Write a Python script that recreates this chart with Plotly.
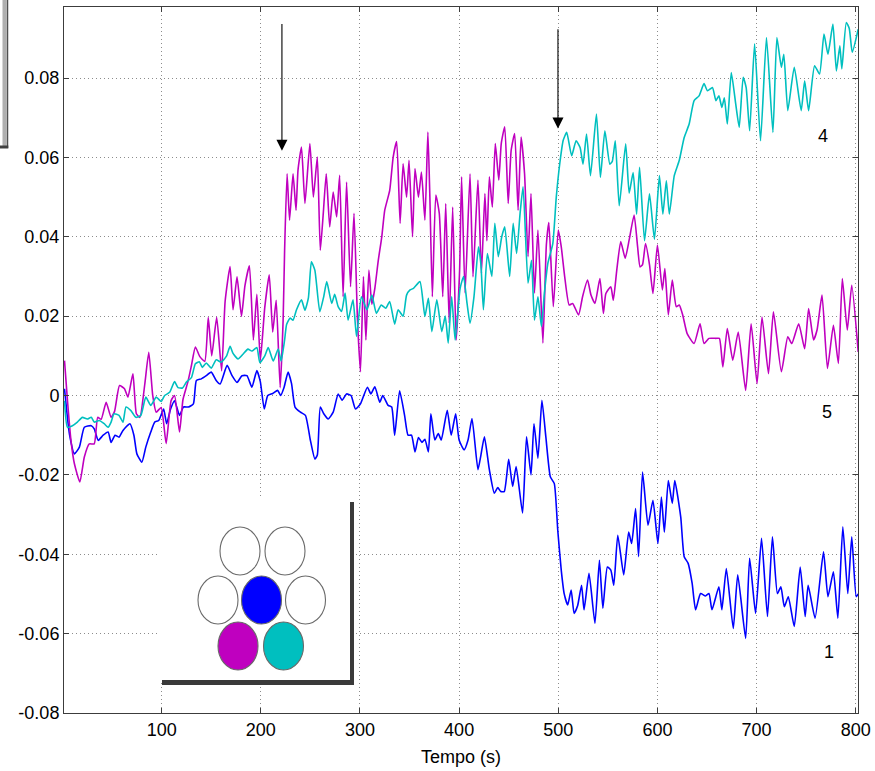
import plotly.graph_objects as go

# ---------------- data ----------------
blue_t = [2, 7, 12, 17, 22, 29, 32, 36, 41, 46, 49, 53, 57, 61, 68, 72, 75, 80, 84, 89,
          93, 97, 102, 105, 109, 113, 118, 122, 127, 132, 135, 140, 145, 150, 155, 159, 166, 171, 176, 181,
          186, 191, 196, 199.5, 203.5, 207, 212, 217, 220, 223.5, 227.5, 231, 234.5, 240, 245, 250, 254.5, 257, 260, 263.5,
          268, 273, 278, 282, 286.5, 291, 295.5, 300.5, 307.5, 311, 315, 320, 323, 328.5, 332, 335, 340, 345, 348.5, 352,
          355.5, 359, 362.5, 365.5, 369, 371.5, 375.5, 379, 382, 388, 392, 396.5, 400, 405, 409, 413, 419, 422, 425.5, 430.5,
          435.5, 439, 442, 445.5, 450, 454, 457.5, 464, 468, 472.5, 475.5, 479.5, 483.5, 487.5, 492, 496, 499.5, 503, 506, 509.5,
          513, 516, 519.5, 523.5, 526, 531, 537, 541.5, 545, 549.5, 553, 556, 560, 566, 571, 574, 578, 581, 585, 590.5,
          595.5, 600.5, 604, 607, 611, 615, 617.5, 623.5, 627, 631, 635, 638.5, 643.5, 648.5, 652, 655, 662, 665, 669.5, 676.5,
          681, 689, 693, 699, 705, 711, 716, 721, 724.5, 728, 732, 738, 744, 749, 752, 759, 767.5, 772, 777.5, 782,
          787, 792, 796, 800.5, 802.5]
blue_v = [0.0017, -0.0097, -0.0147, -0.0130, -0.0080, -0.0076, -0.0084, -0.0113, -0.0100, -0.0092, -0.0118, -0.0100, -0.0105, -0.0088, -0.0071, -0.0100, -0.0147, -0.0168, -0.0130, -0.0092,
          -0.0067, -0.0063, -0.0034, -0.0071, -0.0034, -0.0013, -0.0050, -0.0029, -0.0029, -0.0021, 0.0038, 0.0042, 0.0050, 0.0059, 0.0038, 0.0029, 0.0076, 0.0050, 0.0033, 0.0050,
          0.0050, 0.0021, 0.0063, 0.0035, -0.0034, 0.0000, 0.0005, 0.0013, 0.0000, 0.0021, 0.0059, 0.0030, -0.0029, -0.0042, -0.0050, -0.0113, -0.0160, -0.0150, -0.0029, -0.0046,
          -0.0059, -0.0042, 0.0004, -0.0012, 0.0004, 0.0000, -0.0034, -0.0021, 0.0021, 0.0004, 0.0022, -0.0017, 0.0000, -0.0025, -0.0029, -0.0100, 0.0012, -0.0050, -0.0100, -0.0100,
          -0.0142, -0.0106, -0.0118, -0.0110, -0.0142, -0.0046, -0.0112, -0.0096, -0.0112, -0.0037, -0.0100, -0.0046, -0.0112, -0.0137, -0.0112, -0.0058, -0.0187, -0.0150, -0.0104, -0.0187,
          -0.0246, -0.0232, -0.0242, -0.0242, -0.0161, -0.0229, -0.0179, -0.0296, -0.0104, -0.0200, -0.0071, -0.0158, -0.0012, -0.0105, -0.0205, -0.0222, -0.0340, -0.0440, -0.0500, -0.0528,
          -0.0490, -0.0549, -0.0530, -0.0478, -0.0540, -0.0448, -0.0574, -0.0415, -0.0536, -0.0432, -0.0440, -0.0478, -0.0352, -0.0452, -0.0344, -0.0373, -0.0285, -0.0406, -0.0193, -0.0327,
          -0.0264, -0.0373, -0.0256, -0.0344, -0.0214, -0.0272, -0.0214, -0.0306, -0.0406, -0.0423, -0.0473, -0.0540, -0.0499, -0.0505, -0.0499, -0.0540, -0.0482, -0.0540, -0.0436, -0.0587,
          -0.0452, -0.0612, -0.0410, -0.0549, -0.0360, -0.0557, -0.0356, -0.0499, -0.0482, -0.0532, -0.0507, -0.0582, -0.0432, -0.0557, -0.0478, -0.0561, -0.0394, -0.0507, -0.0444, -0.0561,
          -0.0331, -0.0499, -0.0356, -0.0507, -0.0500]

cyan_t = [2, 5, 10, 15, 20, 25, 29, 32, 37, 42, 46, 49, 52, 57, 61, 64, 69, 74, 79, 84,
          89, 94.5, 99.5, 103, 108, 113, 116.5, 121, 125, 130, 134, 138, 141, 145, 150, 155, 160, 165.5, 169, 172,
          177, 182, 187, 191, 196, 199, 204, 207.5, 212.5, 217.5, 220.5, 224, 226, 229.5, 232.5, 236, 241, 244.5, 248, 251,
          254.5, 259.5, 263.5, 266.5, 271.5, 274.5, 278, 281.5, 285, 288, 293, 296.5, 301.5, 307, 312, 316.5, 321.5, 326, 330, 335,
          338.5, 343.5, 347, 350.5, 354, 360.5, 365.5, 369, 372.5, 377.5, 382.5, 386, 389, 392.5, 396, 401, 404.5, 408, 411, 415,
          419.5, 422, 424.5, 428.5, 433, 436, 439.5, 443, 446, 451, 454.5, 458, 461.5, 464.5, 469.5, 473, 476, 479.5, 483, 486,
          489.5, 494.5, 498, 501.5, 505, 508.5, 513.5, 518, 522, 525, 528.5, 532.5, 538.5, 542.5, 547, 552, 554.5, 557.5, 561.5, 568,
          571.5, 575.5, 579, 582, 587, 592, 597, 602, 605.5, 609, 612, 617, 622, 627, 632, 637, 642, 647, 650.5, 655.5,
          659, 662, 665, 667.5, 670.5, 674.5, 679, 682.5, 686.5, 689.5, 693, 698, 704, 710, 716.5, 720.5, 725, 727.5, 731.5, 738,
          745, 748.5, 752.5, 758.5, 763.5, 768, 772, 777, 780.5, 784, 786, 790.5, 793.5, 796.5, 802.5]
cyan_v = [-0.0013, -0.0080, -0.0076, -0.0067, -0.0055, -0.0059, -0.0055, -0.0067, -0.0063, -0.0071, -0.0080, -0.0067, -0.0046, -0.0050, -0.0067, -0.0029, -0.0038, -0.0055, -0.0050, -0.0004,
          -0.0025, -0.0004, -0.0015, 0.0000, 0.0008, 0.0035, 0.0020, 0.0019, 0.0034, 0.0045, 0.0080, 0.0085, 0.0071, 0.0082, 0.0069, 0.0090, 0.0084, 0.0100, 0.0124, 0.0106,
          0.0092, 0.0104, 0.0117, 0.0112, 0.0121, 0.0083, 0.0100, 0.0121, 0.0087, 0.0117, 0.0087, 0.0140, 0.0179, 0.0195, 0.0190, 0.0216, 0.0241, 0.0215, 0.0246, 0.0337,
          0.0316, 0.0211, 0.0250, 0.0287, 0.0232, 0.0255, 0.0224, 0.0212, 0.0258, 0.0190, 0.0241, 0.0149, 0.0249, 0.0216, 0.0253, 0.0207, 0.0228, 0.0220, 0.0237, 0.0180,
          0.0216, 0.0200, 0.0253, 0.0266, 0.0270, 0.0287, 0.0199, 0.0245, 0.0161, 0.0241, 0.0161, 0.0200, 0.0132, 0.0249, 0.0140, 0.0270, 0.0300, 0.0232, 0.0182, 0.0249,
          0.0375, 0.0330, 0.0216, 0.0358, 0.0300, 0.0434, 0.0350, 0.0400, 0.0425, 0.0300, 0.0434, 0.0358, 0.0459, 0.0526, 0.0283, 0.0341, 0.0190, 0.0249, 0.0174, 0.0258,
          0.0333, 0.0383, 0.0500, 0.0584, 0.0643, 0.0663, 0.0604, 0.0642, 0.0625, 0.0583, 0.0659, 0.0554, 0.0709, 0.0550, 0.0667, 0.0583, 0.0590, 0.0642, 0.0478, 0.0634,
          0.0510, 0.0562, 0.0457, 0.0575, 0.0390, 0.0508, 0.0394, 0.0554, 0.0457, 0.0541, 0.0457, 0.0554, 0.0592, 0.0650, 0.0684, 0.0743, 0.0755, 0.0786, 0.0768, 0.0776,
          0.0743, 0.0755, 0.0726, 0.0750, 0.0684, 0.0814, 0.0734, 0.0676, 0.0802, 0.0776, 0.0667, 0.0886, 0.0642, 0.0902, 0.0663, 0.0902, 0.0827, 0.0860, 0.0718, 0.0827,
          0.0718, 0.0793, 0.0718, 0.0831, 0.0810, 0.0911, 0.0860, 0.0936, 0.0818, 0.0881, 0.0823, 0.0940, 0.0925, 0.0865, 0.0923]

magenta_t = [2, 5, 8.5, 12, 17.5, 22, 27, 32, 35.5, 39, 44, 49, 52.5, 57.5, 62.5, 66, 71, 74.5, 78, 83,
             87, 91, 94.5, 99.5, 104.5, 109.5, 113, 118, 121.5, 126.5, 130, 134, 138.5, 143.5, 147, 150.5, 155.5, 160.5, 164, 169,
             172, 176, 180.5, 184, 188.5, 192.5, 196, 199.5, 204, 208.5, 212, 215.5, 219.5, 222.5, 224, 226.5, 229, 232.5, 235.5, 237.5,
             241, 244.5, 249.5, 253, 257, 260, 263, 266, 269.5, 273, 276.5, 279.5, 283, 286.5, 290.5, 294, 297.5, 300.5, 303.5, 306,
             309, 312, 315, 318.5, 322, 325, 330, 333.5, 337, 340.5, 343.5, 347, 349.5, 353, 355.5, 359, 362, 365.5, 368.5, 370.5,
             373, 376.5, 380, 383.5, 386.5, 390, 393.5, 397, 400.5, 402.5, 406, 411, 414, 419, 422.5, 426, 428, 430.5, 433.5, 436.5,
             440, 442.5, 446, 449.5, 452.5, 456, 459.5, 462.5, 466, 469.5, 472.5, 476, 479.5, 484.5, 488, 490.5, 495, 500, 503, 506.5,
             511, 514.5, 520.5, 524.5, 529.5, 533, 537, 542, 545.5, 548, 553, 555.5, 559, 563, 567.5, 571.5, 576.5, 580, 582.5, 585,
             588, 592, 595.5, 600, 605, 607.5, 611, 615, 619, 622, 625.5, 630, 637, 643, 647, 652, 659, 662.5, 666, 670.5,
             676, 681.5, 689, 694.5, 700.5, 705.5, 712, 717, 725, 731.5, 735.5, 742.5, 748.5, 752.5, 757.5, 761, 766, 771.5, 777.5, 782.5,
             786.5, 791.5, 796, 802.5]
magenta_v = [0.0088, -0.0013, -0.0113, -0.0172, -0.0218, -0.0155, -0.0122, -0.0122, -0.0055, -0.0060, -0.0017, -0.0055, -0.0040, 0.0025, 0.0017, -0.0004, 0.0055, -0.0046, -0.0055, 0.0029,
             0.0109, 0.0000, -0.0042, -0.0030, -0.0121, -0.0013, 0.0000, -0.0092, -0.0010, 0.0035, 0.0075, 0.0122, 0.0098, 0.0086, 0.0197, 0.0100, 0.0197, 0.0062, 0.0237, 0.0325,
             0.0216, 0.0299, 0.0200, 0.0277, 0.0327, 0.0140, 0.0255, 0.0088, 0.0222, 0.0304, 0.0160, 0.0240, 0.0020, 0.0190, 0.0366, 0.0559, 0.0442, 0.0559, 0.0467, 0.0568,
             0.0626, 0.0484, 0.0635, 0.0500, 0.0601, 0.0366, 0.0459, 0.0559, 0.0425, 0.0513, 0.0450, 0.0555, 0.0249, 0.0538, 0.0274, 0.0459, 0.0190, 0.0060, 0.0300, 0.0140,
             0.0316, 0.0230, 0.0270, 0.0341, 0.0400, 0.0467, 0.0517, 0.0601, 0.0640, 0.0434, 0.0584, 0.0500, 0.0593, 0.0400, 0.0572, 0.0500, 0.0563, 0.0442, 0.0664, 0.0500,
             0.0249, 0.0505, 0.0459, 0.0249, 0.0484, 0.0182, 0.0475, 0.0140, 0.0316, 0.0551, 0.0258, 0.0559, 0.0299, 0.0543, 0.0308, 0.0509, 0.0390, 0.0551, 0.0475, 0.0635,
             0.0543, 0.0635, 0.0677, 0.0484, 0.0618, 0.0660, 0.0467, 0.0651, 0.0559, 0.0350, 0.0509, 0.0258, 0.0417, 0.0132, 0.0380, 0.0436, 0.0224, 0.0417, 0.0375, 0.0299,
             0.0228, 0.0232, 0.0203, 0.0249, 0.0291, 0.0253, 0.0232, 0.0295, 0.0207, 0.0257, 0.0274, 0.0240, 0.0316, 0.0388, 0.0346, 0.0392, 0.0455, 0.0375, 0.0324, 0.0330,
             0.0383, 0.0330, 0.0257, 0.0379, 0.0266, 0.0320, 0.0203, 0.0291, 0.0224, 0.0228, 0.0203, 0.0156, 0.0131, 0.0181, 0.0131, 0.0144, 0.0144, 0.0144, 0.0072, 0.0169,
             0.0089, 0.0160, 0.0013, 0.0181, 0.0030, 0.0198, 0.0055, 0.0211, 0.0060, 0.0148, 0.0131, 0.0181, 0.0118, 0.0219, 0.0140, 0.0165, 0.0253, 0.0068, 0.0177, 0.0081,
             0.0295, 0.0165, 0.0278, 0.0110]

x_tick_vals = [100, 200, 300, 400, 500, 600, 700, 800]
y_tick_vals = [-0.08, -0.06, -0.04, -0.02, 0, 0.02, 0.04, 0.06, 0.08]
y_tick_text = ["-0.08", "-0.06", "-0.04", "-0.02", "0", "0.02", "0.04", "0.06", "0.08"]

curve_labels = ["4", "5", "1"]
curve_label_x = [766.5, 771.5, 773.5]
curve_label_y = [0.0655, -0.0042, -0.0647]

arrow_x = [221.3, 499.7]
arrow_tail_y = [0.094, 0.0927]
arrow_tip_y = [0.0617, 0.0673]

BLUE = "#0000FF"
MAGENTA = "#BF00BF"
CYAN = "#00BFBF"

W, H = 875, 771
L, R, T, B = 64, 858, 7, 713   # plot area in pixels


def px(x):
    return (x - L) / (R - L)


def py(y):
    return (B - y) / (B - T)


line_style = dict(width=1.6, shape="spline", smoothing=0.5)

fig = go.Figure()
fig.add_trace(go.Scatter(x=blue_t, y=blue_v, mode="lines", line=dict(color=BLUE, **line_style), name="1"))
fig.add_trace(go.Scatter(x=magenta_t, y=magenta_v, mode="lines", line=dict(color=MAGENTA, **line_style), name="5"))
fig.add_trace(go.Scatter(x=cyan_t, y=cyan_v, mode="lines", line=dict(color=CYAN, **line_style), name="4"))

font_family = "Liberation Sans, Arial, sans-serif"

axis_common = dict(
    showline=True, mirror="allticks", linecolor="#3c3c3c", linewidth=1,
    ticks="inside", ticklen=5, tickcolor="#3c3c3c",
    showgrid=True, gridcolor="#8c8c8c", griddash="1px,3px", gridwidth=1,
    zeroline=False, automargin=False,
    tickfont=dict(family=font_family, size=18, color="black"),
)

fig.update_xaxes(range=[1.5, 802.3], tickvals=x_tick_vals,
                 ticktext=[str(v) for v in x_tick_vals],
                 title=dict(text="Tempo (s)", font=dict(family=font_family, size=18, color="black"), standoff=11),
                 **axis_common)
fig.update_yaxes(range=[-0.08, 0.0979], tickvals=y_tick_vals, ticktext=y_tick_text, **axis_common)

shapes = []
# inset box (covers the grid), with dark shadow on right and bottom
shapes.append(dict(type="rect", xref="paper", yref="paper", layer="above",
                   x0=px(159), x1=px(351), y0=py(681), y1=py(497),
                   fillcolor="white", line=dict(width=0)))
shapes.append(dict(type="rect", xref="paper", yref="paper", layer="above",
                   x0=px(162), x1=px(354), y0=py(685), y1=py(680),
                   fillcolor="#3a3a3a", line=dict(width=0)))
shapes.append(dict(type="rect", xref="paper", yref="paper", layer="above",
                   x0=px(350), x1=px(354), y0=py(685), y1=py(502),
                   fillcolor="#3a3a3a", line=dict(width=0)))

circle_cx = [240, 285, 218, 261.5, 305.5, 238, 283.5]
circle_cy = [551, 551, 600, 600, 600, 646, 646]
circle_fill = ["white", "white", "white", BLUE, "white", MAGENTA, CYAN]
for cx, cy, fc in zip(circle_cx, circle_cy, circle_fill):
    shapes.append(dict(type="circle", xref="paper", yref="paper", layer="above",
                       x0=px(cx - 20), x1=px(cx + 20), y0=py(cy + 24), y1=py(cy - 24),
                       fillcolor=fc, line=dict(color="#6a6a6a", width=1.1)))

# partial framed box at the top-left corner
shapes.append(dict(type="line", xref="paper", yref="paper", x0=px(4.5), x1=px(4.5), y0=py(0), y1=py(147),
                   line=dict(color="#b0b0b0", width=4)))
shapes.append(dict(type="line", xref="paper", yref="paper", x0=px(7.5), x1=px(7.5), y0=py(0), y1=py(148),
                   line=dict(color="#505050", width=1.5)))
shapes.append(dict(type="line", xref="paper", yref="paper", x0=px(0), x1=px(8.3), y0=py(147), y1=py(147),
                   line=dict(color="#404040", width=3)))

annotations = []
for ax_, ty, hy in zip(arrow_x, arrow_tail_y, arrow_tip_y):
    annotations.append(dict(x=ax_, y=hy, ax=ax_, ay=ty, xref="x", yref="y", axref="x", ayref="y",
                            text="", showarrow=True, arrowhead=2, arrowsize=2.0, arrowwidth=1.1,
                            arrowcolor="black"))
for lbl, lx, ly in zip(curve_labels, curve_label_x, curve_label_y):
    annotations.append(dict(x=lx, y=ly, xref="x", yref="y", text=lbl, showarrow=False,
                            font=dict(family=font_family, size=18, color="black")))

fig.update_layout(
    width=W, height=H,
    margin=dict(l=L, r=W - R, t=T, b=H - B, pad=0),
    paper_bgcolor="white", plot_bgcolor="white",
    showlegend=False,
    shapes=shapes, annotations=annotations,
)

# the page's default 8px body margin would shift the whole figure; remove it
fig.write_html("out.html", config={"displayModeBar": False},
               post_script="document.body.style.margin='0px';")
